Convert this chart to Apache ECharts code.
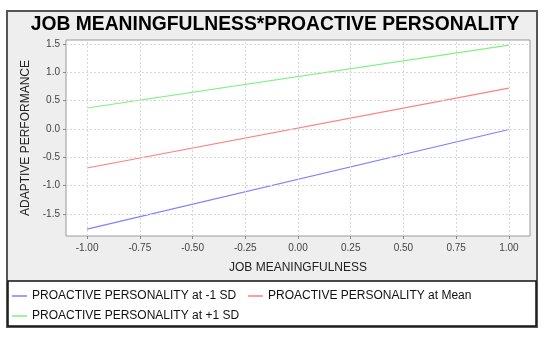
<!DOCTYPE html>
<html><head><meta charset="utf-8">
<script src="https://cdn.jsdelivr.net/npm/echarts@6/dist/echarts.min.js"></script>
<style>html,body{margin:0;padding:0;background:#fff}#c{width:550px;height:340px}</style>
</head><body><div id="c"></div>
<script>
const xTicks = [-1.0, -0.75, -0.5, -0.25, 0.0, 0.25, 0.5, 0.75, 1.0];
const yTicks = [-1.5, -1.0, -0.5, 0.0, 0.5, 1.0, 1.5];
const xValues = [-1.0, 1.0];
const lowSD = [-1.77, -0.01];
const meanVals = [-0.69, 0.72];
const highSD = [0.37, 1.48];
const seriesNames = ['PROACTIVE PERSONALITY at -1 SD', 'PROACTIVE PERSONALITY at Mean', 'PROACTIVE PERSONALITY at +1 SD'];
const colors = ['#8080ff', '#ff8080', '#80f080'];
const font = 'Liberation Sans, Arial, sans-serif';

const chart = echarts.init(document.getElementById('c'), null, {renderer: 'canvas'});
const mk = (name, vals, color) => ({
  name, type: 'line', data: xValues.map((x, i) => [x, vals[i]]),
  showSymbol: false, symbol: 'none', lineStyle: {color, width: 1.2}, itemStyle: {color},
  animation: false, z: 3
});
const gridSeries = {
  name: 'grid', type: 'line', data: [], silent: true, z: 1,
  markLine: {
    silent: true, symbol: ['none', 'none'], label: {show: false}, animation: false,
    lineStyle: {color: '#d8d8d8', type: [2, 2], width: 1},
    emphasis: {disabled: true},
    data: xTicks.map(v => ({xAxis: v})).concat(yTicks.map(v => ({yAxis: v})))
  }
};
const legendText = {fontFamily: font, fontSize: 12, color: '#111'};
chart.setOption({
  animation: false,
  graphic: [
    {type: 'rect', z: -10, shape: {x: 7, y: 11, width: 530, height: 316}, style: {fill: '#eeeeee', stroke: '#555', lineWidth: 2}, silent: true},
    {type: 'rect', z: -9, shape: {x: 8, y: 281, width: 528, height: 45}, style: {fill: '#ffffff', stroke: '#111', lineWidth: 1.5}, silent: true}
  ],
  title: {text: 'JOB MEANINGFULNESS*PROACTIVE PERSONALITY', left: 'center', top: 10,
    textStyle: {fontFamily: font, fontSize: 19.3, fontWeight: 'bold', color: '#000'}},
  grid: {left: 66, right: 20, top: 40, bottom: 104, show: true, backgroundColor: '#fff', borderColor: '#999', borderWidth: 1},
  legend: [
    {data: seriesNames.slice(0, 2), left: 12, top: 290, padding: 0, itemWidth: 15, itemHeight: 1.5, icon: 'rect', itemGap: 12,
      textStyle: legendText},
    {data: seriesNames.slice(2), left: 12, top: 310, padding: 0, itemWidth: 15, itemHeight: 1.5, icon: 'rect',
      textStyle: legendText}
  ],
  xAxis: {type: 'value', min: -1.1, max: 1.1,
    name: 'JOB MEANINGFULNESS', nameLocation: 'middle', nameGap: 26,
    nameTextStyle: {fontFamily: font, fontSize: 12, color: '#222'},
    axisLine: {show: false, onZero: false},
    axisTick: {show: true, length: 3, inside: false, lineStyle: {color: '#888'}, customValues: xTicks},
    axisLabel: {customValues: xTicks, formatter: v => v.toFixed(2), fontFamily: font, fontSize: 10, color: '#444', margin: 7},
    splitLine: {show: false}
  },
  yAxis: {type: 'value', min: -1.89, max: 1.57,
    name: 'ADAPTIVE PERFORMANCE', nameLocation: 'middle', nameGap: 31, nameRotate: 90,
    nameTextStyle: {fontFamily: font, fontSize: 12, color: '#222'},
    axisLine: {show: false, onZero: false},
    axisTick: {show: true, length: 3, lineStyle: {color: '#888'}, customValues: yTicks},
    axisLabel: {customValues: yTicks, formatter: v => v.toFixed(1), fontFamily: font, fontSize: 10, color: '#444', margin: 6},
    splitLine: {show: false}
  },
  series: [gridSeries, mk(seriesNames[0], lowSD, colors[0]), mk(seriesNames[1], meanVals, colors[1]), mk(seriesNames[2], highSD, colors[2])]
});
</script></body></html>
